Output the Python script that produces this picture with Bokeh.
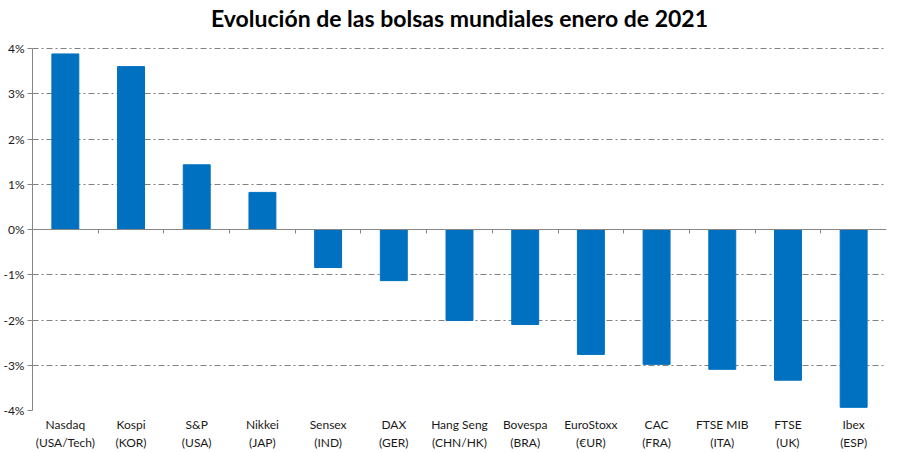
from bokeh.plotting import figure
from bokeh.models import Range1d, LinearAxis, FixedTicker
from bokeh.embed import file_html
from bokeh.resources import INLINE

categories = ["Nasdaq\n(USA/Tech)", "Kospi\n(KOR)", "S&P\n(USA)", "Nikkei\n(JAP)",
              "Sensex\n(IND)", "DAX\n(GER)", "Hang Seng\n(CHN/HK)", "Bovespa\n(BRA)",
              "EuroStoxx\n(€UR)", "CAC\n(FRA)", "FTSE MIB\n(ITA)", "FTSE\n(UK)", "Ibex\n(ESP)"]
values = [3.88, 3.60, 1.43, 0.82, -0.84, -1.13, -2.01, -2.10, -2.76, -2.98, -3.09, -3.33, -3.93]
y_ticks = [-4, -3, -2, -1, 0, 1, 2, 3, 4]
y_labels = {t: f"{t}%" for t in y_ticks}

FONT = "Lato"
n = len(categories)
xpos = [i + 0.5 for i in range(n)]

p = figure(frame_width=854, frame_height=378, x_range=Range1d(0, n),
           y_range=Range1d(-4, 4.354), output_backend="svg", toolbar_location=None,
           min_border_left=31, min_border_right=8, min_border_top=24, min_border_bottom=10)

p.title.text = "Evolución de las bolsas mundiales enero de 2021"
p.title.align = "center"
p.title.text_font = FONT
p.title.text_font_size = "23px"
p.title.text_font_style = "bold"
p.title.text_color = "#000000"
p.title.standoff = 2

p.outline_line_color = None
p.xgrid.grid_line_color = None
p.ygrid.ticker = FixedTicker(ticks=[t for t in y_ticks if t != 0])
p.ygrid.grid_line_color = "#808080"
p.ygrid.grid_line_dash = "6 3 2 3"
p.ygrid.grid_line_width = 1

p.vbar(x=xpos, top=values, bottom=0, width=0.41, color="#0070C0")

# y axis
ya = p.yaxis[0]
ya.bounds = (-4, 4)
ya.ticker = FixedTicker(ticks=y_ticks)
ya.major_label_overrides = y_labels
ya.axis_line_color = "#868686"
ya.major_tick_line_color = "#868686"
ya.major_tick_out = 5
ya.major_tick_in = 0
ya.minor_tick_line_color = None
ya.major_label_text_font = FONT
ya.major_label_text_font_size = "12px"
ya.major_label_text_color = "#1a1a1a"
ya.major_label_standoff = 3

# bottom axis (category labels only)
xa = p.xaxis[0]
xa.ticker = FixedTicker(ticks=xpos)
xa.major_label_overrides = {x: c for x, c in zip(xpos, categories)}
xa.axis_line_color = None
xa.major_tick_line_color = None
xa.minor_tick_line_color = None
xa.major_label_text_font = FONT
xa.major_label_text_font_size = "12px"
xa.major_label_text_color = "#1a1a1a"
xa.major_label_standoff = 0

# zero axis with ticks between categories
za = LinearAxis(fixed_location=0,
                ticker=FixedTicker(ticks=list(range(1, n))),
                axis_line_color="#868686", major_tick_line_color="#868686",
                major_tick_out=4, major_tick_in=0, minor_tick_line_color=None,
                major_label_standoff=0,
                major_label_text_font_size="0px", major_label_text_color=None)
p.add_layout(za, "below")

open("out.html", "w").write(file_html(p, INLINE))
